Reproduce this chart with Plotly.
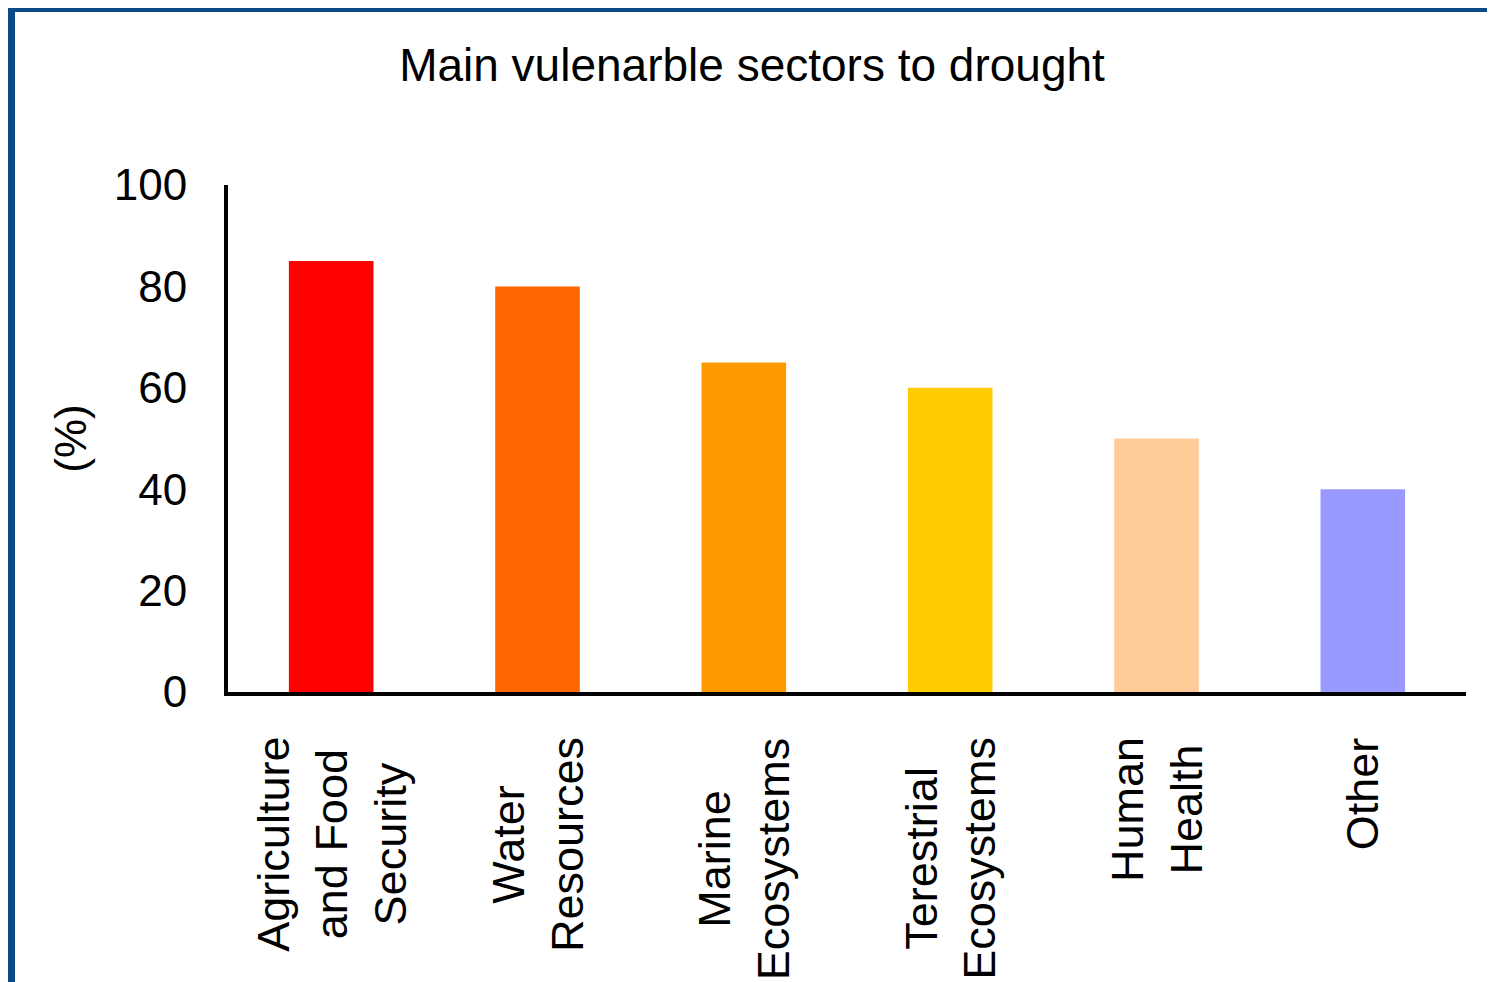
import plotly.graph_objects as go

categories = ["Agriculture and Food Security", "Water Resources", "Marine Ecosystems",
              "Terestrial Ecosystems", "Human Health", "Other"]
label_lines = ["Agriculture<br>and Food<br>Security", "Water<br>Resources", "Marine<br>Ecosystems",
               "Terestrial<br>Ecosystems", "Human<br>Health", "Other"]
values = [85, 80, 65, 60, 50, 40]
colors = ["#FF0000", "#FF6600", "#FF9900", "#FFCC00", "#FFCC99", "#9999FF"]
y_ticks = [0, 20, 40, 60, 80, 100]

W, H = 1495, 982
ML, MR, MT, MB = 220, 37, 177, 298
PW, PH = W - ML - MR, H - MT - MB

FONT = "Liberation Sans, Arial, sans-serif"

fig = go.Figure(go.Bar(x=categories, y=values, marker=dict(color=colors, line=dict(width=0)),
                       width=0.41))

annotations = []
for cat, lab in zip(categories, label_lines):
    annotations.append(dict(x=cat, xref="x", y=-(727 - (H - MB)) / PH, yref="paper",
                            text=lab, textangle=-90, showarrow=False, xanchor="center",
                            yanchor="top", align="center",
                            font=dict(family=FONT, size=45, color="black")))

blue = "#0D4985"
shapes = [
    dict(type="rect", xref="paper", yref="paper", x0=-ML / PW - 0.05, x1=(7 - ML) / PW,
         y0=-MB / PH - 0.05, y1=(H - MB) / PH + 0.05,
         fillcolor=blue, line=dict(width=0), layer="above"),
    dict(type="rect", xref="paper", yref="paper", x0=-ML / PW - 0.05, x1=1 + MR / PW + 0.05,
         y0=((H - MB) - 4) / PH, y1=(H - MB) / PH + 0.05,
         fillcolor=blue, line=dict(width=0), layer="above"),
]

fig.update_layout(
    width=W, height=H,
    margin=dict(l=ML, r=MR, t=MT, b=MB),
    paper_bgcolor="white", plot_bgcolor="white",
    font=dict(family=FONT, color="black", size=44),
    showlegend=False,
    title=dict(text="Main vulenarble sectors to drought", x=744 / W, xref="container",
               xanchor="center", y=1 - 57 / H, yref="container", yanchor="middle",
               font=dict(family=FONT, size=46, color="black")),
    xaxis=dict(showticklabels=False, showline=True, linecolor="black", linewidth=4,
               ticks="", showgrid=False, range=[-0.5, 5.5], zeroline=False),
    yaxis=dict(range=[0, 100], tickvals=y_ticks, ticktext=[str(v) for v in y_ticks],
               showline=True, linecolor="black", linewidth=4, ticks="", showgrid=False,
               zeroline=False, ticklabelstandoff=28,
               tickfont=dict(family=FONT, size=44, color="black"),
               title=dict(text="(%)", standoff=14,
                          font=dict(family=FONT, size=44, color="black"))),
    annotations=annotations,
    shapes=shapes,
)

fig.write_html("out.html")
